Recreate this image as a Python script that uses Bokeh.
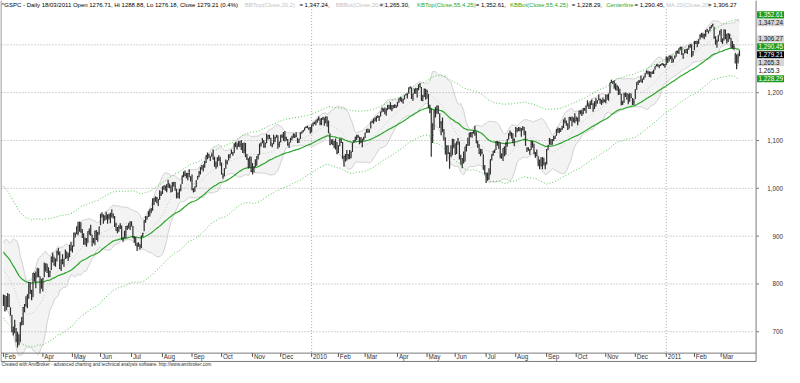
import numpy as np
from bokeh.plotting import figure
from bokeh.models import Range1d
from bokeh.core.properties import value
from bokeh.embed import file_html
from bokeh.resources import INLINE

# ------------------------------------------------------------------ data
# ^GSPC daily closes before the first bar (needed by the 20-bar bands)
close_before = [831.95, 836.57, 845.71, 874.09, 845.14, 825.88, 825.44, 838.51, 832.23, 845.85,
                868.60, 869.89, 827.16, 833.74, 835.19, 826.84, 789.17, 788.42, 778.94]

close_2009 = [
    770.05, 743.33, 773.14, 764.90, 752.83, 735.09,
    700.82, 696.33, 712.87, 682.55, 683.38, 676.53, 719.60, 721.36, 750.74, 756.55, 753.89, 778.12, 794.35, 784.04, 768.54, 822.92, 806.12, 813.88, 832.86, 815.94, 787.53, 797.87,
    811.08, 834.38, 842.50, 835.48, 815.55, 825.16, 856.56, 858.73, 841.50, 852.06, 865.30, 869.60, 832.39, 850.08, 843.55, 851.92, 866.23, 857.51, 855.16, 873.64, 872.81,
    877.52, 907.24, 903.80, 919.53, 907.39, 929.23, 909.24, 908.35, 883.92, 893.07, 882.88, 909.71, 908.13, 903.47, 888.33, 887.00, 910.33, 893.06, 906.83, 919.14,
    942.87, 944.74, 931.76, 942.46, 940.09, 939.14, 942.43, 939.15, 944.89, 946.21, 923.72, 911.97, 910.71, 918.37, 921.23, 893.04, 895.10, 900.94, 920.26, 918.90, 927.23, 919.32,
    923.33, 896.42, 898.72, 881.03, 879.56, 882.68, 879.13, 901.05, 905.84, 932.68, 940.74, 940.38, 951.13, 954.58, 954.07, 976.29, 979.26, 982.18, 979.62, 975.15, 986.75, 987.48,
    1002.63, 1005.65, 1002.72, 997.08, 1010.48, 1007.10, 994.35, 1005.81, 1012.73, 1004.09, 979.73, 989.67, 996.46, 1007.37, 1026.13, 1025.57, 1028.00, 1028.12, 1030.98, 1028.93, 1020.62,
    998.04, 994.75, 1003.24, 1016.40, 1025.39, 1033.37, 1044.14, 1042.73, 1049.34, 1052.63, 1068.76, 1065.49, 1068.30, 1064.66, 1071.66, 1060.87, 1050.78, 1044.38, 1062.98, 1060.61, 1057.08,
    1029.85, 1025.21, 1040.46, 1054.72, 1057.58, 1065.48, 1071.49, 1076.19, 1073.19, 1092.02, 1096.56, 1087.68, 1097.91, 1091.06, 1081.40, 1092.91, 1079.60, 1066.95, 1063.41, 1042.63, 1066.11, 1036.19,
    1042.88, 1045.41, 1046.50, 1066.63, 1069.30, 1093.08, 1093.01, 1098.51, 1087.24, 1093.48, 1109.30, 1110.32, 1109.80, 1094.90, 1091.38, 1106.24, 1105.65, 1110.63, 1091.49, 1095.63,
    1108.86, 1109.24, 1099.92, 1105.98, 1103.25, 1091.94, 1095.95, 1102.35, 1106.41, 1114.11, 1107.93, 1109.18, 1096.08, 1102.47, 1114.05, 1118.02, 1120.59, 1126.48, 1127.78, 1126.20, 1126.42, 1115.10]
high_2009 = [
    778, 777, 775, 781, 779, 751,
    735, 711, 725, 708, 700, 695, 720, 731, 752, 758, 774, 778, 804, 803, 788, 823, 823, 826, 833, 833, 816, 811,
    813, 845, 843, 842, 835, 828, 857, 865, 857, 853, 870, 875, 868, 851, 862, 852, 872, 868, 865, 882, 888,
    881, 907, 907, 920, 930, 930, 929, 915, 906, 897, 896, 910, 916, 924, 903, 896, 911, 913, 909, 920,
    947, 950, 945, 943, 951, 946, 947, 949, 956, 947, 942, 928, 919, 923, 927, 922, 898, 911, 921, 922, 927, 931,
    931, 921, 899, 898, 886, 887, 883, 901, 907, 933, 942, 941, 952, 956, 959, 979, 979, 983, 982, 978, 996, 994,
    1004, 1006, 1006, 1009, 1018, 1010, 1006, 1013, 1013, 1013, 999, 991, 999, 1008, 1027, 1035, 1037, 1032, 1032, 1040, 1025,
    1029, 1000, 1004, 1017, 1026, 1036, 1044, 1049, 1049, 1057, 1069, 1075, 1072, 1067, 1073, 1081, 1066, 1056, 1065, 1069, 1066,
    1054, 1031, 1042, 1060, 1058, 1071, 1072, 1081, 1076, 1094, 1097, 1094, 1098, 1099, 1101, 1095, 1096, 1095, 1072, 1063, 1066, 1066,
    1053, 1046, 1061, 1067, 1072, 1093, 1096, 1105, 1101, 1096, 1114, 1111, 1112, 1106, 1094, 1112, 1108, 1112, 1111, 1098,
    1112, 1113, 1118, 1120, 1108, 1103, 1096, 1106, 1110, 1114, 1114, 1117, 1106, 1103, 1117, 1119, 1122, 1127, 1130, 1131, 1127, 1128]
low_2009 = [
    754, 743, 745, 751, 752, 734,
    699, 692, 697, 678, 667, 672, 679, 713, 714, 741, 753, 749, 769, 779, 766, 772, 805, 791, 814, 814, 780, 790,
    784, 814, 826, 823, 814, 814, 829, 845, 838, 836, 847, 860, 831, 827, 841, 836, 852, 853, 848, 856, 869,
    866, 878, 897, 904, 902, 909, 907, 896, 882, 882, 878, 886, 903, 901, 879, 885, 881, 892, 888, 903,
    923, 939, 926, 932, 934, 926, 935, 927, 939, 937, 919, 911, 906, 909, 915, 893, 888, 896, 896, 913, 916, 913,
    920, 896, 886, 880, 869, 878, 872, 875, 898, 910, 928, 934, 940, 941, 948, 953, 965, 972, 969, 963, 976, 984,
    988, 997, 995, 992, 1001, 1000, 991, 993, 1004, 995, 979, 980, 978, 994, 1009, 1023, 1026, 1021, 1017, 1023, 1014,
    996, 991, 993, 1002, 1018, 1023, 1029, 1039, 1035, 1043, 1053, 1061, 1064, 1057, 1066, 1060, 1045, 1041, 1045, 1057, 1047,
    1029, 1020, 1025, 1041, 1050, 1058, 1063, 1072, 1068, 1074, 1086, 1081, 1087, 1086, 1080, 1074, 1073, 1065, 1059, 1042, 1043, 1034,
    1029, 1033, 1045, 1047, 1060, 1070, 1087, 1094, 1085, 1085, 1094, 1102, 1103, 1088, 1086, 1092, 1097, 1106, 1083, 1086,
    1096, 1105, 1099, 1098, 1100, 1089, 1085, 1096, 1101, 1106, 1105, 1107, 1095, 1095, 1103, 1114, 1117, 1121, 1126, 1126, 1122, 1115]

close_2010 = [
    1132.99, 1136.52, 1137.14, 1141.69, 1144.98, 1146.98, 1136.22, 1145.68, 1148.46, 1136.03, 1150.23, 1138.04, 1116.48, 1091.76, 1096.78, 1092.17, 1097.50, 1084.53, 1073.87,
    1089.19, 1103.32, 1097.28, 1063.11, 1066.19, 1056.74, 1070.52, 1068.13, 1078.47, 1075.51, 1094.87, 1099.51, 1106.75, 1109.17, 1108.01, 1094.60, 1105.24, 1102.94, 1104.49,
    1115.71, 1118.31, 1118.79, 1122.97, 1138.70, 1138.50, 1140.45, 1145.61, 1150.24, 1149.99, 1150.51, 1159.46, 1166.21, 1165.83, 1159.90, 1165.81, 1174.17, 1167.72, 1165.73, 1166.59, 1173.22, 1173.27, 1169.43,
    1178.10, 1187.44, 1189.44, 1182.45, 1186.44, 1194.37, 1196.48, 1197.30, 1210.65, 1211.67, 1192.13, 1197.52, 1207.17, 1205.94, 1208.67, 1217.28, 1212.05, 1183.71, 1191.36, 1206.78, 1186.69,
    1202.26, 1173.60, 1165.90, 1128.15, 1110.88, 1159.73, 1155.79, 1171.67, 1157.44, 1135.68, 1136.94, 1120.80, 1115.05, 1071.59, 1087.69, 1073.65, 1074.03, 1067.95, 1103.06, 1089.41,
    1070.71, 1098.38, 1102.83, 1064.88, 1050.47, 1062.00, 1055.69, 1086.84, 1091.60, 1089.63, 1115.23, 1114.61, 1116.04, 1117.51, 1113.20, 1095.31, 1092.04, 1073.69, 1076.76, 1074.57, 1041.24, 1030.71,
    1027.37, 1022.58, 1028.06, 1060.27, 1070.25, 1077.96, 1078.75, 1095.34, 1095.17, 1096.48, 1064.88, 1071.25, 1083.48, 1069.59, 1093.67, 1102.66, 1115.01, 1113.84, 1106.13, 1101.53, 1101.60,
    1125.86, 1120.46, 1127.24, 1125.81, 1121.64, 1127.79, 1121.06, 1089.47, 1083.61, 1079.25, 1079.38, 1092.54, 1094.16, 1075.63, 1071.69, 1067.36, 1051.87, 1055.33, 1047.22, 1064.59, 1048.92, 1049.33,
    1080.29, 1090.10, 1104.51, 1091.84, 1098.87, 1104.18, 1109.55, 1121.90, 1121.10, 1125.07, 1124.66, 1125.59, 1142.71, 1139.78, 1134.28, 1124.83, 1148.67, 1142.16, 1147.70, 1144.73, 1141.20,
    1146.24, 1137.03, 1160.75, 1159.97, 1158.06, 1165.15, 1165.32, 1169.77, 1178.10, 1173.81, 1176.19, 1184.71, 1165.90, 1178.17, 1180.26, 1183.08, 1185.62, 1185.64, 1182.45, 1183.78, 1183.26,
    1184.38, 1193.57, 1197.96, 1221.06, 1225.85, 1223.25, 1213.40, 1218.71, 1213.54, 1199.21, 1197.75, 1178.34, 1178.59, 1196.69, 1199.73, 1197.84, 1180.73, 1198.35, 1189.40, 1187.76, 1180.55,
    1206.07, 1221.53, 1224.71, 1223.12, 1223.75, 1228.28, 1233.00, 1240.40, 1240.46, 1241.59, 1235.23, 1242.87, 1243.91, 1247.08, 1254.60, 1258.84, 1256.77, 1257.54, 1258.51, 1259.78, 1257.88, 1257.64]
high_2010 = [
    1133, 1137, 1139, 1142, 1145, 1150, 1146, 1147, 1149, 1148, 1150, 1150, 1142, 1115, 1102, 1103, 1099, 1104, 1097,
    1090, 1104, 1103, 1097, 1068, 1072, 1080, 1072, 1080, 1077, 1095, 1101, 1108, 1112, 1112, 1108, 1107, 1103, 1108,
    1116, 1124, 1125, 1123, 1139, 1142, 1146, 1148, 1150, 1153, 1151, 1160, 1169, 1167, 1169, 1167, 1174, 1174, 1180, 1174, 1174, 1176, 1174,
    1181, 1188, 1191, 1190, 1187, 1194, 1197, 1199, 1211, 1213, 1211, 1198, 1208, 1210, 1210, 1217, 1220, 1212, 1195, 1209, 1208,
    1206, 1197, 1175, 1167, 1136, 1164, 1170, 1173, 1173, 1157, 1141, 1148, 1124, 1107, 1090, 1090, 1075, 1090, 1103, 1103,
    1094, 1098, 1105, 1098, 1070, 1063, 1077, 1087, 1092, 1106, 1116, 1118, 1118, 1121, 1131, 1119, 1100, 1092, 1083, 1082, 1071, 1049,
    1033, 1033, 1042, 1060, 1071, 1078, 1081, 1099, 1099, 1097, 1096, 1073, 1084, 1088, 1097, 1103, 1115, 1121, 1117, 1115, 1104,
    1128, 1126, 1128, 1127, 1126, 1130, 1128, 1120, 1086, 1086, 1082, 1100, 1099, 1093, 1076, 1081, 1067, 1060, 1065, 1065, 1064, 1055,
    1082, 1090, 1105, 1103, 1103, 1110, 1110, 1124, 1127, 1126, 1125, 1131, 1144, 1148, 1142, 1136, 1149, 1149, 1150, 1148, 1157,
    1150, 1148, 1162, 1163, 1164, 1168, 1168, 1173, 1184, 1178, 1182, 1185, 1178, 1182, 1189, 1184, 1196, 1188, 1185, 1190, 1186,
    1196, 1196, 1198, 1221, 1227, 1224, 1226, 1219, 1216, 1213, 1208, 1198, 1183, 1200, 1200, 1199, 1197, 1199, 1198, 1189, 1187,
    1207, 1222, 1225, 1226, 1236, 1229, 1234, 1240, 1247, 1246, 1245, 1244, 1244, 1248, 1255, 1259, 1260, 1258, 1260, 1262, 1261, 1260]
low_2010 = [
    1117, 1130, 1134, 1132, 1137, 1142, 1132, 1132, 1143, 1131, 1136, 1129, 1115, 1090, 1092, 1090, 1084, 1081, 1071,
    1074, 1088, 1095, 1062, 1045, 1056, 1058, 1061, 1061, 1063, 1076, 1095, 1098, 1101, 1105, 1092, 1095, 1086, 1100,
    1105, 1116, 1116, 1116, 1125, 1137, 1135, 1140, 1139, 1147, 1141, 1150, 1159, 1160, 1155, 1152, 1163, 1166, 1165, 1161, 1167, 1168, 1168,
    1171, 1179, 1182, 1180, 1177, 1186, 1194, 1188, 1198, 1208, 1187, 1183, 1198, 1198, 1190, 1205, 1211, 1183, 1182, 1191, 1186,
    1188, 1168, 1157, 1066, 1095, 1122, 1148, 1156, 1156, 1126, 1111, 1117, 1100, 1071, 1056, 1072, 1041, 1066, 1069, 1084,
    1070, 1072, 1091, 1060, 1050, 1042, 1052, 1056, 1077, 1089, 1089, 1107, 1106, 1114, 1110, 1094, 1085, 1072, 1067, 1071, 1039, 1029,
    1011, 1016, 1018, 1029, 1058, 1068, 1074, 1080, 1089, 1082, 1063, 1062, 1057, 1067, 1070, 1087, 1102, 1110, 1104, 1095, 1088,
    1107, 1117, 1120, 1119, 1108, 1121, 1111, 1089, 1076, 1079, 1070, 1080, 1085, 1071, 1064, 1067, 1046, 1040, 1046, 1040, 1048, 1040,
    1050, 1080, 1091, 1091, 1091, 1099, 1103, 1110, 1116, 1115, 1118, 1122, 1126, 1136, 1131, 1122, 1125, 1142, 1130, 1138, 1136,
    1140, 1132, 1139, 1155, 1151, 1155, 1162, 1157, 1171, 1166, 1166, 1174, 1160, 1166, 1171, 1177, 1184, 1177, 1174, 1178, 1180,
    1178, 1185, 1183, 1199, 1220, 1218, 1208, 1205, 1204, 1195, 1196, 1173, 1174, 1179, 1191, 1185, 1176, 1181, 1189, 1174, 1174,
    1187, 1206, 1216, 1221, 1223, 1220, 1227, 1232, 1240, 1238, 1233, 1232, 1239, 1239, 1248, 1255, 1254, 1251, 1256, 1258, 1256, 1252]

close_2011 = [
    1271.87, 1270.20, 1276.56, 1273.85, 1271.50, 1269.75, 1274.48, 1285.96, 1283.76, 1293.24, 1295.02, 1281.92, 1280.26, 1283.35, 1290.84, 1291.18, 1296.63, 1299.54, 1276.34, 1286.12,
    1307.59, 1304.03, 1307.10, 1310.87, 1319.05, 1324.57, 1320.88, 1321.87, 1329.15, 1332.32, 1328.01, 1336.32, 1340.43, 1343.01, 1315.44, 1307.40, 1306.10, 1319.88, 1327.22,
    1306.33, 1308.44, 1330.97, 1321.15, 1310.13, 1321.82, 1320.02, 1295.11, 1304.28, 1296.39, 1281.87, 1256.88, 1273.72, 1279.21]
high_2011 = [
    1276, 1274, 1277, 1278, 1277, 1271, 1278, 1287, 1288, 1293, 1296, 1296, 1282, 1291, 1291, 1292, 1299, 1302, 1301, 1287,
    1308, 1308, 1308, 1311, 1322, 1325, 1324, 1323, 1331, 1333, 1330, 1338, 1341, 1344, 1338, 1318, 1311, 1320, 1330,
    1333, 1314, 1332, 1332, 1323, 1325, 1323, 1315, 1308, 1302, 1282, 1280, 1282, 1289]
low_2011 = [
    1258, 1262, 1265, 1270, 1262, 1263, 1271, 1275, 1282, 1281, 1290, 1279, 1271, 1282, 1283, 1281, 1290, 1294, 1274, 1277,
    1289, 1302, 1295, 1302, 1311, 1316, 1314, 1312, 1317, 1327, 1324, 1329, 1334, 1338, 1313, 1300, 1294, 1307, 1320,
    1306, 1302, 1309, 1312, 1303, 1306, 1312, 1294, 1292, 1290, 1261, 1249, 1261, 1276]

# trading sessions per month and the date-axis labels
month_labels = ["Feb", "Mar", "Apr", "May", "Jun", "Jul", "Aug", "Sep", "Oct", "Nov", "Dec",
                "2010", "Feb", "Mar", "Apr", "May", "Jun", "Jul", "Aug", "Sep", "Oct", "Nov", "Dec",
                "2011", "Feb", "Mar"]
month_sessions = [6, 22, 21, 20, 22, 22, 21, 21, 22, 20, 22,
                  19, 19, 23, 21, 20, 22, 21, 22, 21, 21, 21, 22,
                  20, 19, 14]

# values read at the first bar for the 55-bar indicators
centerline_start = 867.0
kbtop_start = 1005.0

price_levels = [700, 800, 900, 1000, 1100, 1200, 1300]
axis_labels = ["700", "800", "900", "1,000", "1,100", "1,200"]

# last values shown at the right edge
last_values = [1352.61, 1347.24, 1306.27, 1290.45, 1279.21, 1265.30, 1265.30, 1228.29]
last_texts = ["1,352.61", "1,347.24", "1,306.27", "1,290.45", "1,279.21", "1,265.3", "1,265.3", "1,228.29"]
last_shift = [10.1, -1.1, 6.3, 5.5, 0.0, -2.7, -18.2, 0.8]
last_fill = ["#1d9a1d", "#d5d5d5", "#d5d5d5", "#1d9a1d", "#000000", "#d5d5d5", "#ffffff", "#1d9a1d"]
last_color = ["#ffffff", "#111111", "#111111", "#ffffff", "#ffffff", "#111111", "#111111", "#ffffff"]

title_parts = [
    ("^GSPC - Daily 18/03/2011 Open 1276.71, Hi 1288.88, Lo 1276.18, Close 1279.21 (0.4%)", "#000000", 1.0),
    ("BBTop(Close,20,2)", "#c4c4c4", 249.3), ("= 1,347.24,", "#000000", 305.0),
    ("BBBot(Close,20,2)", "#c4c4c4", 342.0), ("= 1,265.30,", "#000000", 386.7),
    ("KBTop(Close,55,4.25)", "#2aa82a", 425.0), ("= 1,352.61,", "#000000", 485.0),
    ("KBBot(Close,55,4.25)", "#2aa82a", 520.0), ("= 1,228.29,", "#000000", 583.0),
    ("Centerline", "#2aa82a", 618.0), ("= 1,290.45,", "#000000", 647.0),
    ("MA 20(Close,20)", "#c4c4c4", 679.0), ("= 1,306.27", "#000000", 722.0),
]
footer = "Created with AmiBroker - advanced charting and technical analysis software. http://www.amibroker.com"

# ------------------------------------------------------------------ indicators
close = np.array(close_2009 + close_2010 + close_2011, dtype=float)
high = np.array(high_2009 + high_2010 + high_2011, dtype=float)
low = np.array(low_2009 + low_2010 + low_2011, dtype=float)
n = len(close)
idx = np.arange(n)

hist = np.concatenate([np.array(close_before, dtype=float), close])
k = len(close_before)
ma20 = np.array([hist[i:i + k + 1].mean() for i in range(n)])
sd20 = np.array([hist[i:i + k + 1].std() for i in range(n)])
bb_top = ma20 + 2 * sd20
bb_bot = ma20 - 2 * sd20

alpha = 2.0 / 56.0
center = np.empty(n)
atr = np.empty(n)
center[0] = centerline_start
atr[0] = (kbtop_start - centerline_start) / 4.25
for i in range(1, n):
    center[i] = center[i - 1] + alpha * (close[i] - center[i - 1])
    tr = max(high[i], close[i - 1]) - min(low[i], close[i - 1])
    atr[i] = atr[i - 1] + (tr - atr[i - 1]) / 55.0
kb_top = center + 4.25 * atr
kb_bot = center - 4.25 * atr

# ------------------------------------------------------------------ layout helpers (reference pixels -> data)
BAR0, BARW = 3.0, 1.436
Y700, PXU = 345.7, 0.499


def ix(px):
    return (px - BAR0) / BARW


def vy(py):
    return 700 + (Y700 - py) / PXU


W, H = 784, 367
p = figure(width=W, height=H, x_range=Range1d(ix(0), ix(800)), y_range=Range1d(vy(383), vy(0)),
           output_backend="svg", toolbar_location=None, x_axis_type=None, y_axis_type=None,
           min_border=0, min_border_left=0, min_border_right=0, min_border_top=0, min_border_bottom=0)
p.outline_line_color = None
p.background_fill_color = "#ffffff"
p.border_fill_color = "#ffffff"
p.xgrid.visible = False
p.ygrid.visible = False

FONT = value("Liberation Sans")
GRID = "#a8a8a8"
FRAME = "#7a7a7a"

# Bollinger band area
p.varea(x=idx, y1=bb_bot, y2=bb_top, fill_color="#f3f3f3")

# grid
p.segment(x0=[ix(1)] * len(price_levels), x1=[ix(768)] * len(price_levels), y0=price_levels, y1=price_levels,
          line_color=GRID, line_width=1, line_dash="1 2")
starts = np.concatenate([[0], np.cumsum(month_sessions)[:-1]])
year_x = [starts[j] for j, lab in enumerate(month_labels) if lab.isdigit()]
p.segment(x0=year_x, x1=year_x, y0=[vy(9)] * len(year_x), y1=[vy(367)] * len(year_x),
          line_color=GRID, line_width=1, line_dash="1 2")

# bands and lines
p.line(idx, bb_top, line_color="#d0d0d0", line_width=1)
p.line(idx, bb_bot, line_color="#d0d0d0", line_width=1)
p.line(idx, ma20, line_color="#c8c8c8", line_width=1, line_dash="1 2")
p.line(idx, kb_top, line_color="#55c455", line_width=1, line_dash="1 2")
p.line(idx, kb_bot, line_color="#55c455", line_width=1, line_dash="1 2")
p.line(idx, center, line_color="#2ba52b", line_width=1.2)

# price bars
p.segment(x0=idx, x1=idx, y0=low, y1=high, line_color="#2e2e2e", line_width=1.2)
p.segment(x0=idx, x1=idx + 0.5, y0=close, y1=close, line_color="#2e2e2e", line_width=1)

# frame
p.segment(x0=[ix(0.5), ix(771)], x1=[ix(0.5), ix(771)], y0=[vy(0), vy(0)], y1=[vy(376.7), vy(376.7)],
          line_color=FRAME, line_width=1)
p.segment(x0=[ix(0.5), ix(0.5)], x1=[ix(771), ix(771)], y0=[vy(368), vy(376.7)], y1=[vy(368), vy(376.7)],
          line_color=FRAME, line_width=1)

# right price axis
lab_levels = price_levels[:len(axis_labels)]
p.segment(x0=[ix(771)] * len(lab_levels), x1=[ix(774)] * len(lab_levels), y0=lab_levels, y1=lab_levels,
          line_color=FRAME, line_width=1)
p.text(x=[ix(798.5)] * len(lab_levels), y=lab_levels, text=axis_labels, text_font=FONT,
       text_font_size="6.3px", text_color="#333333", text_align="right", text_baseline="middle")

# last-value boxes
ly = [v + s for v, s in zip(last_values, last_shift)]
p.rect(x=[ix(786)] * len(ly), y=ly, width=28 / BARW, height=7.4 / PXU, fill_color=last_fill, line_color=None)
p.text(x=[ix(773.5)] * len(ly), y=ly, text=last_texts, text_font=FONT, text_font_size="6.3px",
       text_color=last_color, text_align="left", text_baseline="middle")

# date strip
shown_x, shown_t, last_shown = [], [], -100
for s, lab in zip(starts, month_labels):
    if s - last_shown >= 12:
        shown_x.append(s)
        shown_t.append(lab)
        last_shown = s
p.segment(x0=shown_x, x1=shown_x, y0=[vy(368)] * len(shown_x), y1=[vy(372)] * len(shown_x),
          line_color="#555555", line_width=1)
p.text(x=[s + 1.0 for s in shown_x], y=[vy(371.8)] * len(shown_x), text=shown_t, text_font=FONT,
       text_font_size="6.3px", text_color="#333333", text_align="left", text_baseline="middle")

# title
for txt, col, px in title_parts:
    p.text(x=[ix(px)], y=[vy(4.4)], text=[txt], text_font=FONT, text_font_size="6.0px",
           text_color=col, text_align="left", text_baseline="middle")

# footer
p.text(x=[ix(1)], y=[vy(380.2)], text=[footer], text_font=FONT, text_font_size="4.6px",
       text_color="#333333", text_align="left", text_baseline="middle")

open("out.html", "w").write(file_html(p, INLINE))
